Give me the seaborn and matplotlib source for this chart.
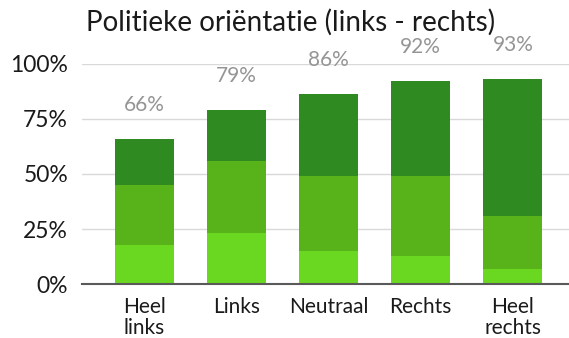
import numpy as np
import pandas as pd
import matplotlib
matplotlib.use("Agg")
import matplotlib.pyplot as plt
import seaborn as sns

# Political orientation groups and their stacked shares (in %)
categories = ["Heel\nlinks", "Links", "Neutraal", "Rechts", "Heel\nrechts"]
bottom_share = [18, 23, 15, 13, 7]
middle_share = [27, 33, 34, 36, 24]
top_share = [21, 23, 37, 43, 62]
totals = [66, 79, 86, 92, 93]
yticks = [0, 25, 50, 75, 100]
ytick_labels = ["0%", "25%", "50%", "75%", "100%"]

sns.set_style("white")
plt.rcParams["font.family"] = ["Lato", "DejaVu Sans"]

df = pd.DataFrame({
    "cat": categories,
    "bottom": bottom_share,
    "middle": middle_share,
    "top": top_share,
})
df["c1"] = df["bottom"]
df["c2"] = df["bottom"] + df["middle"]
df["c3"] = df["c2"] + df["top"]

fig = plt.figure(figsize=(5.69, 3.38), dpi=100)
ax = fig.add_axes([0.144, 0.159, 0.856, 0.653])

for ax_i in yticks[1:]:
    ax.axhline(ax_i, color="#d9d9d9", lw=1.0, zorder=0)

colors = {"c3": "#2f8a22", "c2": "#58b31b", "c1": "#6ad820"}
for col in ["c3", "c2", "c1"]:
    sns.barplot(data=df, x="cat", y=col, color=colors[col], width=0.64,
                saturation=1, ax=ax, zorder=2, linewidth=0)

for i, t in enumerate(totals):
    ax.annotate(f"{t}%", xy=(i, df["c3"][i]), xytext=(0, 24.5),
                textcoords="offset points", ha="center", va="center",
                fontsize=15, color="#959595", annotation_clip=False)

ax.set_xlim(-0.68, 4.61)
ax.set_ylim(0, 100)
ax.set_yticks(yticks)
ax.set_yticklabels(ytick_labels, fontsize=16.5, color="#1a1a1a")
ax.tick_params(axis="y", length=0, pad=10)
ax.tick_params(axis="x", length=0, pad=9, labelsize=15, labelcolor="#1a1a1a")
for lbl in ax.get_xticklabels():
    lbl.set_linespacing(1.1)
ax.set_xlabel("")
ax.set_ylabel("")
for s in ["top", "right", "left"]:
    ax.spines[s].set_visible(False)
ax.spines["bottom"].set_color("#595959")
ax.spines["bottom"].set_linewidth(1.5)
ax.spines["bottom"].set_zorder(3)

fig.text(86 / 569, 1 - 22 / 338, "Politieke oriëntatie (links - rechts)",
         fontsize=20, color="#1a1a1a", ha="left", va="center")

fig.savefig("out.png", dpi=100)
